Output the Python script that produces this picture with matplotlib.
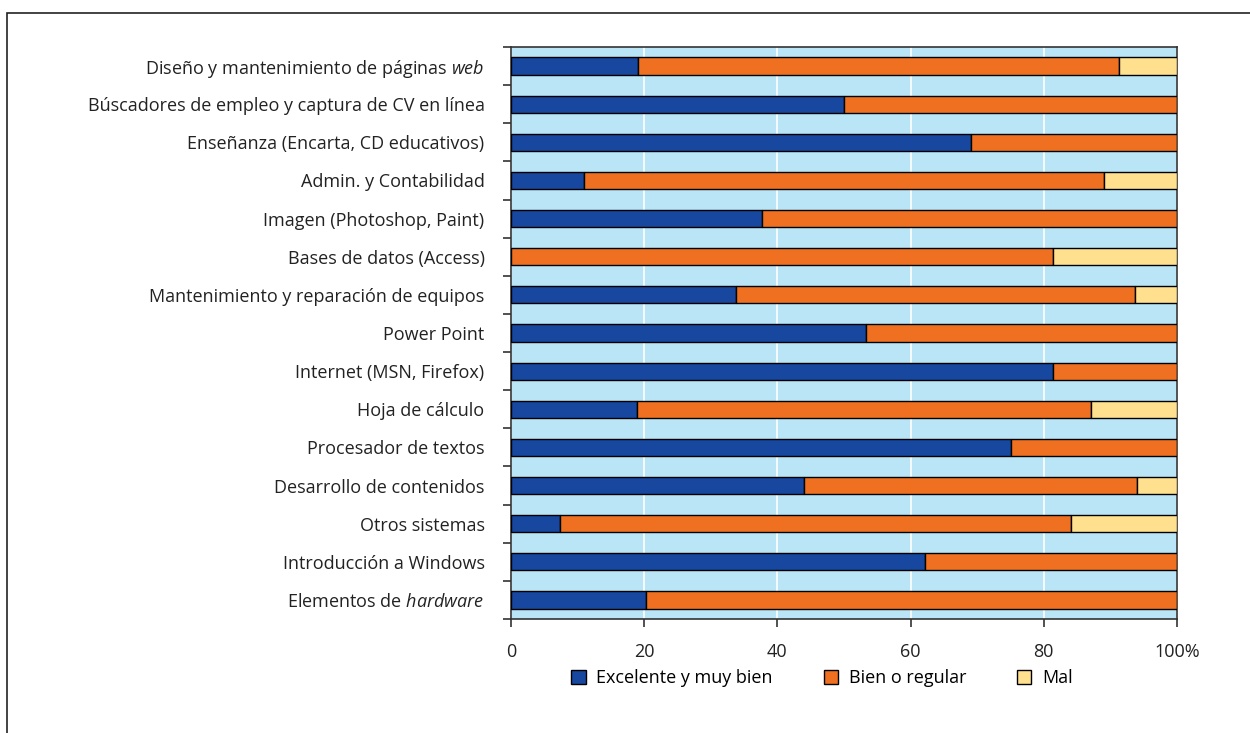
import matplotlib.pyplot as plt
import matplotlib.patches as mpatches
import numpy as np

plt.rcParams['font.family'] = ['Open Sans', 'DejaVu Sans']
plt.rcParams['mathtext.fontset'] = 'custom'
plt.rcParams['mathtext.it'] = 'Open Sans:italic'
plt.rcParams['mathtext.rm'] = 'Open Sans'

categorias = [
    "Diseño y mantenimiento de páginas $\\mathit{web}$",
    "Búscadores de empleo y captura de CV en línea",
    "Enseñanza (Encarta, CD educativos)",
    "Admin. y Contabilidad",
    "Imagen (Photoshop, Paint)",
    "Bases de datos (Access)",
    "Mantenimiento y reparación de equipos",
    "Power Point",
    "Internet (MSN, Firefox)",
    "Hoja de cálculo",
    "Procesador de textos",
    "Desarrollo de contenidos",
    "Otros sistemas",
    "Introducción a Windows",
    "Elementos de $\\mathit{hardware}$",
]
excelente = [19.1, 50.0, 69.1, 11.0, 37.7, 0.0, 33.8, 53.3, 81.4, 18.9, 75.1, 44.0, 7.4, 62.2, 20.3]
bien = [72.2, 50.0, 30.9, 78.0, 62.3, 81.4, 59.9, 46.7, 18.6, 68.2, 24.9, 50.0, 76.7, 37.8, 79.7]
mal = [8.7, 0.0, 0.0, 11.0, 0.0, 18.6, 6.3, 0.0, 0.0, 12.9, 0.0, 6.0, 15.9, 0.0, 0.0]
series = ["Excelente y muy bien", "Bien o regular", "Mal"]
colores = ["#17479E", "#F07021", "#FFE08F"]

fig = plt.figure(figsize=(12.5, 7.33), dpi=100)
ax = fig.add_axes([511/1250, 1 - 619/733, 666/1250, 572/733])

y = np.arange(len(categorias))[::-1]
left = np.zeros(len(categorias))
for vals, nombre, col in zip([excelente, bien, mal], series, colores):
    vals = np.array(vals)
    ax.barh(y, vals, left=left, height=0.45, color=col, edgecolor='black',
            linewidth=1.0, label=nombre, zorder=3)
    left += vals

ax.set_facecolor('#BAE5F7')
ax.set_xlim(0, 100)
ax.set_ylim(-0.5, len(categorias) - 0.5)
ax.set_xticks([0, 20, 40, 60, 80, 100])
ax.set_xticklabels(['0', '20', '40', '60', '80', '100%'])
ax.xaxis.grid(True, color='white', linewidth=1.2, zorder=1)
ax.set_axisbelow(True)

ax.set_yticks(y)
ax.set_yticklabels(categorias)
ax.set_yticks(np.arange(-0.5, len(categorias), 1.0), minor=True)
ax.tick_params(axis='y', which='major', length=0, pad=19, labelsize=13, labelcolor='#222222')
ax.tick_params(axis='y', which='minor', length=6, width=1.2, direction='out', color='#333333')
ax.tick_params(axis='x', length=6, width=1.2, direction='out', color='#333333',
               labelsize=13, labelcolor='#222222', pad=11)
for s in ax.spines.values():
    s.set_color('#333333')
    s.set_linewidth(1.2)

handles = [mpatches.Patch(facecolor=c, edgecolor='black', label=n) for c, n in zip(colores, series)]
fig.legend(handles=handles, loc='center', bbox_to_anchor=(822/1250, 1 - 678/733), ncol=3,
           frameon=False, fontsize=13, handlelength=0.8, handleheight=0.8, columnspacing=2.8,
           handletextpad=0.6)

marco = mpatches.Rectangle((7/1250, -0.1), 1.2, 1 - 13/733 + 0.1, transform=fig.transFigure,
                           fill=False, edgecolor='#222222', linewidth=1.2)
fig.patches.append(marco)

fig.savefig('out.png', dpi=100)
